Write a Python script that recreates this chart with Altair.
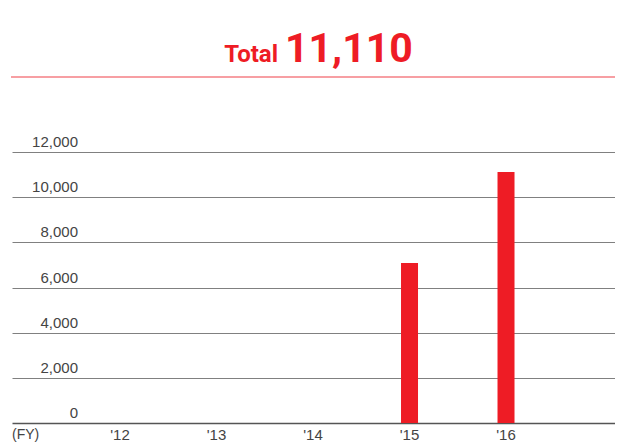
import altair as alt
import pandas as pd

# ---- data ----
fiscal_years = ["'12", "'13", "'14", "'15", "'16"]
amounts = [None, None, None, 7080, 11110]
y_ticks = [0, 2000, 4000, 6000, 8000, 10000, 12000]
y_tick_labels = ["0", "2,000", "4,000", "6,000", "8,000", "10,000", "12,000"]
total_word = ["Total"]
total_value = [11110]
fy_label = ["(FY)"]

W, H = 603, 271
TOP = 144
RED = "#ee1c25"
LABEL_FONT = "Liberation Sans"
TITLE_FONT = "Roboto"
GRAY = "#444444"

df = pd.DataFrame({"fy": fiscal_years, "amount": amounts})
ticks_df = pd.DataFrame({"v": y_ticks, "label": y_tick_labels})
title_df = pd.DataFrame({"word": total_word, "num": [f"{v:,}" for v in total_value]})
fy_df = pd.DataFrame({"t": fy_label})

x_scale = alt.Scale(domain=fiscal_years, paddingInner=0, paddingOuter=0.6244, align=0.496)
y_scale = alt.Scale(domain=[0, 12000], nice=False, zero=True)
y_axis = alt.Axis(title=None, values=y_ticks[1:], grid=True, gridColor="#808080",
                  gridWidth=1, labels=False, ticks=False, domain=False)

bars = alt.Chart(df).mark_bar(color=RED, width=17).encode(
    x=alt.X("fy:N", scale=x_scale, sort=fiscal_years,
            axis=alt.Axis(title=None, labelAngle=0, ticks=False, grid=False,
                          domainColor="#555555", domainWidth=1.3,
                          labelFontSize=15, labelColor=GRAY, labelFont=LABEL_FONT,
                          labelPadding=4)),
    y=alt.Y("amount:Q", scale=y_scale, axis=y_axis),
)

ylabels = alt.Chart(ticks_df).mark_text(
    align="right", baseline="alphabetic", dy=-5, fontSize=15, color=GRAY, font=LABEL_FONT
).encode(
    x=alt.value(66),
    y=alt.Y("v:Q", scale=y_scale, axis=y_axis),
    text="label:N",
)

fy = alt.Chart(fy_df).mark_text(
    align="left", baseline="top", fontSize=14, color=GRAY, font=LABEL_FONT
).encode(x=alt.value(0), y=alt.value(H + 5), text="t:N")

# title positions are page-fixed: baseline y=62, rule y=77
word = alt.Chart(title_df).mark_text(
    align="right", baseline="alphabetic", fontSize=24, fontWeight="bold", color=RED, font=TITLE_FONT
).encode(x=alt.value(266), y=alt.value(62 - 8 - TOP), text="word:N")

num = alt.Chart(title_df).mark_text(
    align="left", baseline="alphabetic", fontSize=41, fontWeight="bold", color=RED, font=TITLE_FONT
).encode(x=alt.value(273), y=alt.value(62 - 8 - TOP), text="num:N")

redline = alt.Chart(title_df).mark_rule(color="#f47f84", strokeWidth=1.5).encode(
    x=alt.value(-1), x2=alt.value(W), y=alt.value(77 - 8 - TOP)
)

chart = alt.layer(redline, word, num, bars, ylabels, fy).properties(
    width=W, height=H,
    padding={"left": 4, "top": TOP, "right": 0, "bottom": 20},
    autosize="none",
).configure_view(stroke=None)

chart.save("out.html", embed_options={"renderer": "svg", "actions": False})
